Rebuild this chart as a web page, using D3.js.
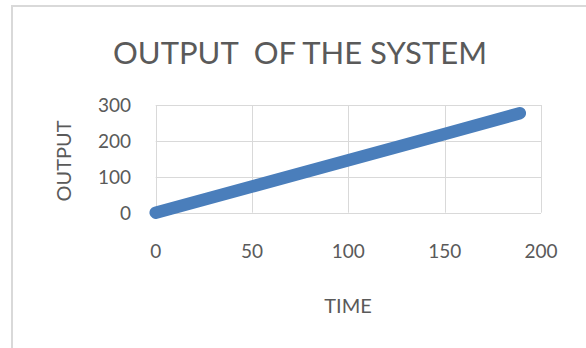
<!DOCTYPE html>
<html><head><meta charset="utf-8">
<script src="https://cdn.jsdelivr.net/npm/d3@7"></script>
<style>body{margin:0;background:#fff}svg{display:block}text{font-family:Lato,"Open Sans",sans-serif;fill:#5a5a5a}</style>
</head><body>
<script>
const title = "OUTPUT  OF THE SYSTEM";
const xTitle = "TIME";
const yTitle = "OUTPUT";
const xTicks = [0, 50, 100, 150, 200];
const yTicks = [0, 100, 200, 300];
const time = [0, 50, 100, 150, 189];
const output = [0, 73, 146, 219, 277];

const W = 586, H = 348;
const svg = d3.select("body").append("svg").attr("width", W).attr("height", H);
// chart frame
svg.append("path").attr("d", `M12,${H} V6 H${W}`).attr("fill","none").attr("stroke","#d9d9d9").attr("stroke-width",2);

const m = {l:155.7, r:541, t:105, b:212.7};
const x = d3.scaleLinear().domain([0,200]).range([m.l, m.r]);
const y = d3.scaleLinear().domain([0,300]).range([m.b, m.t]);

const g = svg.append("g");
g.selectAll("line.v").data(xTicks).join("line")
  .attr("x1", d=>Math.round(x(d))+0.5).attr("x2", d=>Math.round(x(d))+0.5)
  .attr("y1", m.t).attr("y2", m.b).attr("stroke","#d9d9d9");
g.selectAll("line.h").data(yTicks).join("line")
  .attr("y1", d=>Math.round(y(d))+0.5).attr("y2", d=>Math.round(y(d))+0.5)
  .attr("x1", m.l).attr("x2", m.r).attr("stroke","#d9d9d9");

g.selectAll("text.xt").data(xTicks).join("text")
  .attr("x", d=>x(d)).attr("y", 258).attr("text-anchor","middle")
  .attr("font-size", 19).text(d=>d);
g.selectAll("text.yt").data(yTicks).join("text")
  .attr("x", 131).attr("y", d=>y(d)+7).attr("text-anchor","end")
  .attr("font-size", 19).text(d=>d);

const pts = time.map((t,i)=>[t, output[i]]);
svg.append("path").datum(pts)
  .attr("d", d3.line().x(d=>x(d[0])).y(d=>y(d[1])))
  .attr("fill","none").attr("stroke","#4a7ebb").attr("stroke-width",12.5)
  .attr("stroke-linecap","round").attr("stroke-linejoin","round");

svg.append("text").attr("x", 300).attr("y", 64).attr("text-anchor","middle")
  .style("white-space","pre").attr("font-size", 31).text(title);
svg.append("text").attr("x", 348).attr("y", 313).attr("text-anchor","middle")
  .attr("font-size", 20).text(xTitle);
svg.append("text").attr("transform","translate(71,161) rotate(-90)").attr("text-anchor","middle")
  .attr("font-size", 20).text(yTitle);
</script>
</body></html>
